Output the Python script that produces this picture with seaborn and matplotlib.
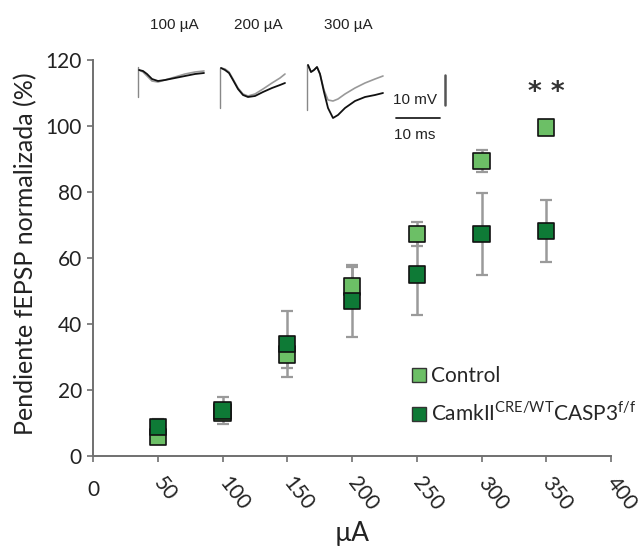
import numpy as np
import pandas as pd
import matplotlib
matplotlib.use("Agg")
import matplotlib.pyplot as plt
from matplotlib.lines import Line2D
from matplotlib.transforms import ScaledTranslation
import seaborn as sns

# ---------------- data ----------------
currents = [50, 100, 150, 200, 250, 300, 350]
control_mean = [5.8, 13.2, 30.8, 51.4, 67.3, 89.4, 99.6]
control_err = [1.0, 2.0, 4.0, 6.0, 3.7, 3.2, 1.5]
casp3_mean = [8.8, 13.8, 34.0, 47.0, 55.0, 67.2, 68.2]
casp3_err = [2.5, 4.0, 10.0, 11.0, 12.3, 12.5, 9.5]
x_ticks = [0, 50, 100, 150, 200, 250, 300, 350, 400]
y_ticks = [0, 20, 40, 60, 80, 100, 120]
group_names = ["Control", "CASP3"]
group_labels = ["Control", r"CamkII$^{\mathregular{CRE/WT}}$CASP3$^{\mathregular{f/f}}$"]
colors = ["#6cbf66", "#0e7a36"]
signif_label = "* *"
signif_x = 350
signif_y = 107.8

# inset trace shapes (pixel offsets relative to each inset origin)
trace_labels = ["100 µA", "200 µA", "300 µA"]
tr100_x = [0, 4, 8, 13, 19, 26, 36, 46, 56, 65]
tr100_black = [3, 4, 7, 12, 14, 13, 11, 9, 7, 6]
tr100_gray = [3, 5, 9, 14, 15, 13, 10, 7, 5, 4]
tr200_x = [0, 4, 8, 12, 17, 22, 27, 34, 42, 51, 59, 64]
tr200_black = [0, 2, 5, 12, 21, 27, 29, 28, 24, 20, 17, 15]
tr200_gray = [0, 1, 4, 11, 20, 26, 28, 26, 21, 15, 10, 6]
tr300_x = [0, 3, 6, 9, 12, 16, 20, 25, 30, 37, 47, 57, 67, 75]
tr300_black = [0, 7, 5, 2, 9, 27, 43, 53, 50, 43, 36, 32, 30, 28]
tr300_gray = [0, 7, 5, 2, 9, 25, 35, 36, 34, 29, 23, 18, 14, 11]

# ---------------- figure ----------------
W, H = 641, 547
sns.set_theme(style="white")
plt.rcParams["font.family"] = ["Lato", "DejaVu Sans"]

fig = plt.figure(figsize=(W / 100, H / 100), dpi=100)
ax = fig.add_axes([93 / W, 1 - 456 / H, (611 - 93) / W, (456 - 60) / H])

df = pd.DataFrame({
    "current": currents * 2,
    "value": control_mean + casp3_mean,
    "err": control_err + casp3_err,
    "group": [group_names[0]] * len(currents) + [group_names[1]] * len(currents),
})

# error bars (behind markers)
for g in group_names:
    sub = df[df["group"] == g]
    ax.errorbar(sub["current"], sub["value"], yerr=sub["err"], fmt="none",
                ecolor="#9a9a9a", elinewidth=1.8, capsize=4, capthick=1.6, zorder=1)

sns.scatterplot(data=df, x="current", y="value", hue="group",
                hue_order=group_names, palette=colors, marker="s", s=140,
                edgecolor="#111111", linewidth=1.2, legend=False, ax=ax, zorder=3)

ax.set_xlim(0, 400)
ax.set_ylim(0, 120)
ax.set_xticks(x_ticks)
ax.set_yticks(y_ticks)
ax.set_xticklabels([str(t) for t in x_ticks], fontsize=15)
shift = ScaledTranslation(-7 / 100, 0, fig.dpi_scale_trans)
for i, lab in enumerate(ax.get_xticklabels()):
    if i == 0:
        lab.set_rotation(0)
        lab.set_ha("center")
        lab.set_va("top")
    else:
        lab.set_rotation(-52)
        lab.set_ha("left")
        lab.set_va("center")
        lab.set_rotation_mode("anchor")
        lab.set_transform(lab.get_transform() + shift)
ax.set_yticklabels([str(t) for t in y_ticks], fontsize=15)
for s in ["top", "right"]:
    ax.spines[s].set_visible(False)
for s in ["left", "bottom"]:
    ax.spines[s].set_color("#707070")
    ax.spines[s].set_linewidth(1.4)
ax.tick_params(axis="both", direction="out", length=4, width=1.2, color="#707070",
               labelcolor="#222222", bottom=True, left=True)
ax.tick_params(axis="x", pad=13)
ax.tick_params(axis="y", pad=4)
ax.set_xlabel("µA", fontsize=19, color="#222222", va="center")
ax.xaxis.set_label_coords(0.5, (456 - 533) / 396)
ax.set_ylabel("Pendiente fEPSP normalizada (%)", fontsize=18, color="#222222")
ax.yaxis.set_label_coords(-0.107, 0.511)

ax.text(signif_x, signif_y, signif_label, ha="center", va="baseline", fontsize=19,
        fontweight="bold", family=["DejaVu Sans"], color="#333333")

handles = [Line2D([0], [0], marker="s", linestyle="none", markersize=9.5,
                  markerfacecolor=c, markeredgecolor="#333333", markeredgewidth=1.0)
           for c in colors]
ax.legend(handles, group_labels, loc="upper left", bbox_to_anchor=(411 / W, 1 - 366 / H),
          bbox_transform=fig.transFigure, frameon=False, fontsize=15,
          handletextpad=0.15, handlelength=0.8, labelspacing=0.75, borderpad=0,
          borderaxespad=0)

# ---------------- inset traces (overlay in pixel coordinates) ----------------
ov = fig.add_axes([0, 0, 1, 1], zorder=5)
ov.set_xlim(0, W)
ov.set_ylim(H, 0)
ov.axis("off")
ov.patch.set_alpha(0)

lab_font = ["Liberation Sans", "DejaVu Sans"]
insets = [
    (138, 67, 30, tr100_x, tr100_black, tr100_gray, 174),
    (220, 68, 40, tr200_x, tr200_black, tr200_gray, 258),
    (307, 65, 45, tr300_x, tr300_black, tr300_gray, 348),
]
for (x0, y0, stick, xs, yb, yg, lx), lab in zip(insets, trace_labels):
    ov.plot([x0, x0], [y0, y0 + stick], color="#888888", lw=1.0)
    ov.plot([x0 + 1 + v for v in xs], [y0 + v for v in yg], color="#999999", lw=1.2)
    ov.plot([x0 + 1 + v for v in xs], [y0 + v for v in yb], color="#111111", lw=1.3)
    ov.text(lx, 25, lab, ha="center", va="center", fontsize=11, family=lab_font,
            color="#222222")

# scale bars
ov.plot([445, 445], [75, 105], color="#555555", lw=1.8)
ov.plot([396, 440], [118, 118], color="#222222", lw=1.3)
ov.text(415, 100, "10 mV", ha="center", va="center", fontsize=11, family=lab_font,
        color="#222222")
ov.text(415, 135, "10 ms", ha="center", va="center", fontsize=11, family=lab_font,
        color="#222222")

fig.savefig("out.png", dpi=100)
